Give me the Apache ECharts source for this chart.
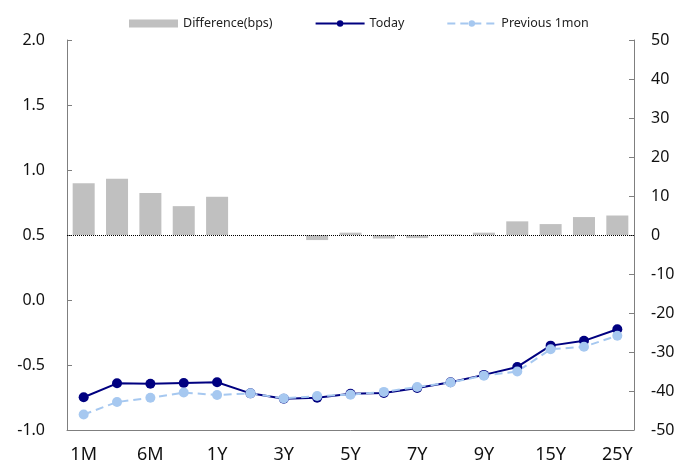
<!DOCTYPE html>
<html>
<head>
<meta charset="utf-8">
<script src="https://cdn.jsdelivr.net/npm/echarts@6/dist/echarts.min.js"></script>
<style>html,body{margin:0;padding:0;background:#fff}#chart{width:694px;height:466px}</style>
</head>
<body>
<div id="chart"></div>
<script>
// Tenors along the curve
const tenors = ['1M','3M','6M','9M','1Y','2Y','3Y','4Y','5Y','6Y','7Y','8Y','9Y','10Y','15Y','20Y','25Y'];
// Change vs one month ago, basis points (right axis)
const difference = [13.3, 14.4, 10.8, 7.4, 9.8, 0, -0.2, -1.3, 0.6, -0.9, -0.8, 0.1, 0.6, 3.5, 2.8, 4.6, 5.0];
// Current yield curve (%)
const today = [-0.748, -0.641, -0.644, -0.638, -0.633, -0.718, -0.759, -0.752, -0.722, -0.716, -0.677, -0.633, -0.576, -0.515, -0.351, -0.314, -0.225];
// Curve one month earlier (%)
const previous = [-0.881, -0.785, -0.752, -0.712, -0.731, -0.718, -0.757, -0.739, -0.728, -0.707, -0.669, -0.634, -0.582, -0.550, -0.379, -0.360, -0.275];
const leftTicks = {min: -1.0, max: 2.0, interval: 0.5};
const rightTicks = {min: -50, max: 50, interval: 10};

const font = 'Noto Sans';
const axisColor = '#7f7f7f';
const chart = echarts.init(document.getElementById('chart'), null, {renderer: 'canvas'});
chart.setOption({
  animation: false,
  textStyle: {fontFamily: font},
  legend: {
    top: 12, left: 124,
    itemWidth: 49, itemHeight: 8, itemGap: 42,
    textStyle: {fontSize: 12.5, color: '#222', fontFamily: font},
    data: [{name: 'Difference(bps)', icon: 'rect'}, 'Today', 'Previous 1mon']
  },
  grid: {left: 67, right: 60, top: 40, bottom: 36},
  xAxis: {
    type: 'category', data: tenors, boundaryGap: true,
    axisLine: {onZero: false, lineStyle: {color: axisColor, width: 1}},
    axisTick: {inside: true, length: 5, interval: 0, lineStyle: {color: axisColor}},
    axisLabel: {interval: 1, fontSize: 18, color: '#111', margin: 16, fontFamily: font},
    splitLine: {show: false}
  },
  yAxis: [
    {
      type: 'value', min: leftTicks.min, max: leftTicks.max, interval: leftTicks.interval,
      axisLine: {show: true, lineStyle: {color: axisColor}},
      axisTick: {show: true, inside: true, length: 5, lineStyle: {color: axisColor}},
      axisLabel: {fontSize: 16, color: '#111', margin: 22, fontFamily: font,
        formatter: v => v.toFixed(1)},
      splitLine: {show: false}
    },
    {
      type: 'value', min: rightTicks.min, max: rightTicks.max, interval: rightTicks.interval,
      position: 'right',
      axisLine: {show: true, lineStyle: {color: axisColor}},
      axisTick: {show: true, inside: true, length: 5, lineStyle: {color: axisColor}},
      axisLabel: {fontSize: 16, color: '#111', margin: 17, fontFamily: font},
      splitLine: {show: false}
    }
  ],
  series: [
    {
      name: 'Difference(bps)', type: 'bar', yAxisIndex: 1, data: difference,
      barCategoryGap: '34%',
      itemStyle: {color: '#c0c0c0'},
      markLine: {
        silent: true, symbol: 'none', label: {show: false},
        lineStyle: {color: '#000', type: [1, 1], width: 1},
        data: [{yAxis: 0}]
      }
    },
    {
      name: 'Today', type: 'line', yAxisIndex: 0, data: today,
      symbol: 'circle', symbolSize: 10,
      lineStyle: {color: '#000080', width: 2},
      itemStyle: {color: '#000080'}
    },
    {
      name: 'Previous 1mon', type: 'line', yAxisIndex: 0, data: previous,
      symbol: 'circle', symbolSize: 10,
      lineStyle: {color: '#a6c8f0', width: 2, type: [8, 5]},
      itemStyle: {color: '#a6c8f0'}
    }
  ]
});
</script>
</body>
</html>
